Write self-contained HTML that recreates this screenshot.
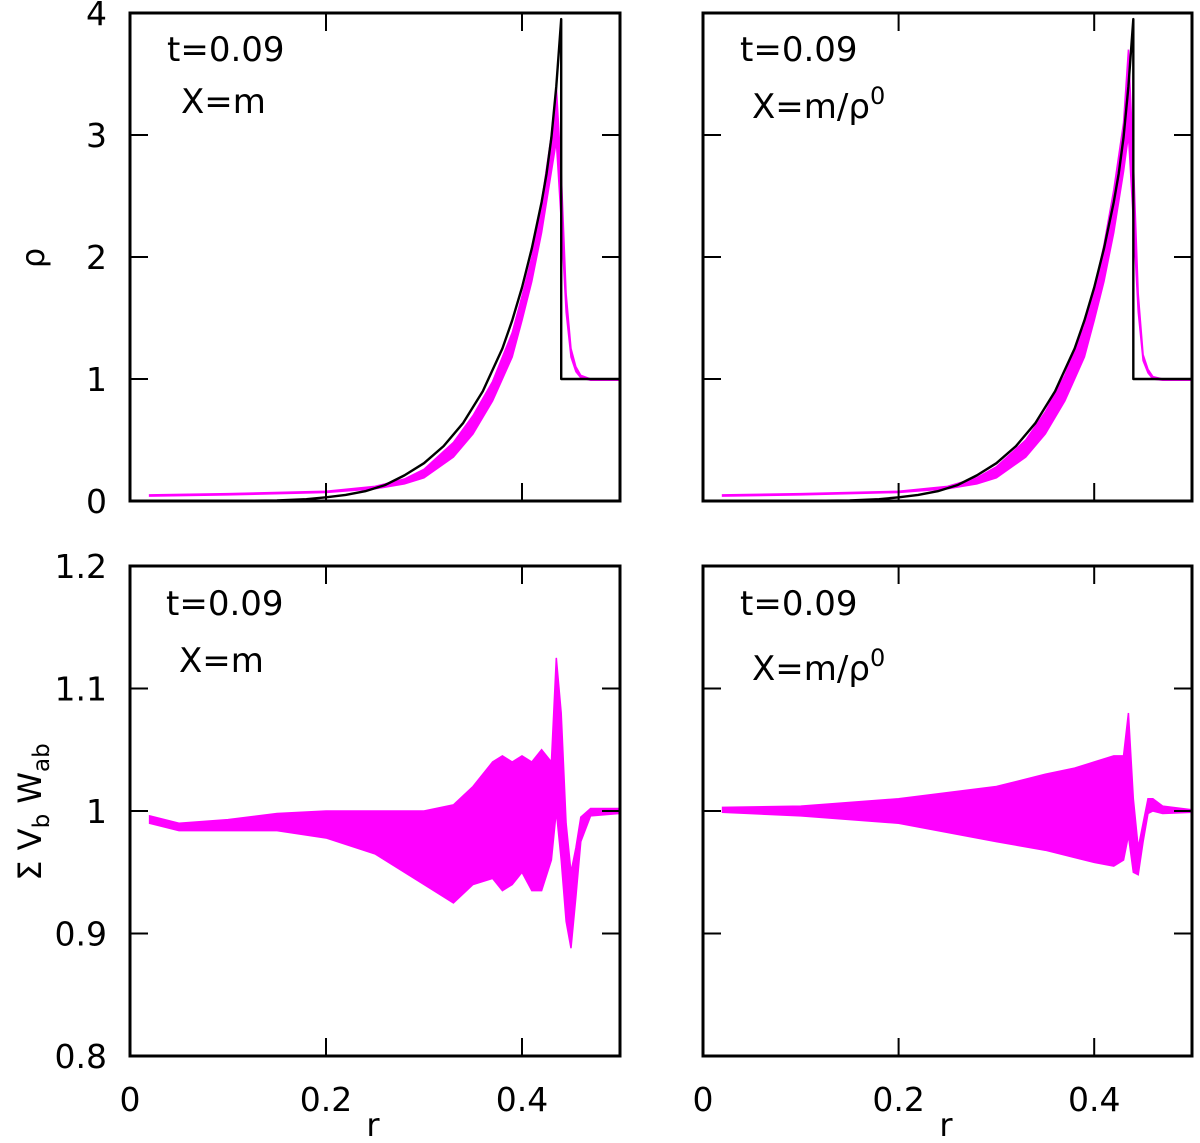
<!DOCTYPE html>
<html><head><meta charset="utf-8"><style>
html,body{margin:0;padding:0;background:#fff}
body{position:relative}
svg{display:block;font-family:"DejaVu Sans","Liberation Sans",sans-serif}
</style></head><body>
<svg id="chart" width="1200" height="1143" viewBox="0 0 1200 1143" xmlns="http://www.w3.org/2000/svg"></svg>
<script>
// ---- data ----
const rhoTicks=[0,1,2,3,4];
const vwTicks=[0.8,0.9,1,1.1,1.2];
const rTicks=[0,0.2,0.4];
const rTickLabels=["0","0.2","0.4"];
const vwTickLabels=["0.8","0.9","1","1.1","1.2"];
// exact solution (black)
const exactR=[0,0.1,0.15,0.18,0.2,0.22,0.24,0.26,0.28,0.3,0.32,0.34,0.36,0.38,0.39,0.4,0.41,0.42,0.425,0.43,0.435,0.44,0.44,0.5];
const exactRho=[0,0,0.005,0.015,0.03,0.05,0.08,0.13,0.21,0.31,0.45,0.64,0.9,1.25,1.48,1.75,2.07,2.45,2.68,2.98,3.4,3.95,1,1];
// SPH density band (magenta): r, upper, lower
const rhoBandR=[0.02,0.1,0.2,0.25,0.28,0.3,0.33,0.35,0.37,0.39,0.4,0.41,0.42,0.43,0.435,0.44,0.445,0.45,0.455,0.46,0.47,0.5];
const rhoUpperL=[0.05,0.06,0.08,0.12,0.18,0.26,0.48,0.7,0.98,1.38,1.68,2.0,2.45,3.0,3.4,2.7,1.7,1.25,1.1,1.03,1.0,1.0];
const rhoLowerL=[0.04,0.05,0.07,0.1,0.14,0.19,0.36,0.55,0.82,1.18,1.48,1.8,2.2,2.7,2.95,2.3,1.55,1.18,1.06,1.01,0.99,0.99];
const rhoUpperR=[0.05,0.06,0.08,0.12,0.19,0.28,0.5,0.73,1.03,1.43,1.73,2.1,2.55,3.1,3.7,2.8,1.7,1.2,1.08,1.02,1.0,1.0];
const rhoLowerR=[0.04,0.05,0.07,0.1,0.14,0.19,0.36,0.55,0.82,1.18,1.48,1.8,2.2,2.7,3.0,2.3,1.55,1.15,1.05,1.0,0.99,0.99];
// sum V W bands
const vwRL=[0.02,0.05,0.1,0.15,0.2,0.25,0.3,0.33,0.35,0.37,0.38,0.39,0.4,0.41,0.42,0.43,0.435,0.44,0.445,0.45,0.455,0.46,0.47,0.5];
const vwUpperL=[0.996,0.99,0.993,0.998,1.0,1.0,1.0,1.005,1.02,1.04,1.045,1.04,1.045,1.04,1.05,1.04,1.125,1.08,0.99,0.95,0.97,0.995,1.002,1.002];
const vwLowerL=[0.99,0.984,0.984,0.984,0.978,0.965,0.94,0.925,0.94,0.945,0.935,0.94,0.95,0.935,0.935,0.96,1.0,0.96,0.91,0.888,0.93,0.975,0.996,0.998];
const vwRR=[0.02,0.1,0.2,0.3,0.35,0.38,0.4,0.42,0.43,0.435,0.44,0.445,0.45,0.455,0.46,0.47,0.5];
const vwUpperR=[1.003,1.004,1.01,1.02,1.03,1.035,1.04,1.045,1.045,1.08,1.01,0.97,0.99,1.01,1.01,1.004,1.001];
const vwLowerR=[0.999,0.996,0.99,0.975,0.968,0.962,0.958,0.955,0.96,0.98,0.95,0.948,0.975,0.998,1.0,0.998,0.999];

const NS="http://www.w3.org/2000/svg";
const svg=document.getElementById('chart');
function el(tag,attrs,parent){const e=document.createElementNS(NS,tag);for(const k in attrs)e.setAttribute(k,attrs[k]);(parent||svg).appendChild(e);return e;}
const panels=[
 {x0:130,x1:620,y0:13,y1:501,ymin:0,ymax:4,ticks:rhoTicks,labels:rhoTicks.map(String),showX:false,name:'rho-left'},
 {x0:703,x1:1192,y0:13,y1:501,ymin:0,ymax:4,ticks:rhoTicks,labels:null,showX:false,name:'rho-right'},
 {x0:130,x1:620,y0:566,y1:1056,ymin:0.8,ymax:1.2,ticks:vwTicks,labels:vwTickLabels,showX:true,name:'vw-left'},
 {x0:703,x1:1192,y0:566,y1:1056,ymin:0.8,ymax:1.2,ticks:vwTicks,labels:null,showX:true,name:'vw-right'}
];
panels.forEach(p=>{p.sx=r=>p.x0+(r/0.5)*(p.x1-p.x0);p.sy=v=>p.y1-(v-p.ymin)/(p.ymax-p.ymin)*(p.y1-p.y0);});
function band(p,R,U,L,name){
  let pts=R.map((r,i)=>p.sx(r)+','+p.sy(U[i]));
  for(let i=R.length-1;i>=0;i--)pts.push(p.sx(R[i])+','+p.sy(L[i]));
  const g=el('polygon',{points:pts.join(' '),fill:'#ff00ff',stroke:'#ff00ff','stroke-width':1.5});
  
  
}
function line(p,R,V,name){
  const l=el('polyline',{points:R.map((r,i)=>p.sx(r)+','+p.sy(V[i])).join(' '),fill:'none',stroke:'#000','stroke-width':2.4,'stroke-linejoin':'round'});
  
  
}
band(panels[0],rhoBandR,rhoUpperL,rhoLowerL,'sph-density-left');
line(panels[0],exactR,exactRho,'exact-density-left');
band(panels[1],rhoBandR,rhoUpperR,rhoLowerR,'sph-density-right');
line(panels[1],exactR,exactRho,'exact-density-right');
band(panels[2],vwRL,vwUpperL,vwLowerL,'volume-sum-left');
band(panels[3],vwRR,vwUpperR,vwLowerR,'volume-sum-right');

panels.forEach(p=>{
  const f=el('rect',{x:p.x0,y:p.y0,width:p.x1-p.x0,height:p.y1-p.y0,fill:'none',stroke:'#000','stroke-width':3});
  
  
  p.ticks.forEach((t,i)=>{
    const y=p.sy(t);
    el('line',{x1:p.x0,x2:p.x0+18,y1:y,y2:y,stroke:'#000','stroke-width':2});
    el('line',{x1:p.x1,x2:p.x1-18,y1:y,y2:y,stroke:'#000','stroke-width':2});
    if(p.labels){const tx=el('text',{x:107,y:y+12,'text-anchor':'end','font-size':33});tx.textContent=p.labels[i];
      
      }
  });
  rTicks.forEach((t,i)=>{
    const x=p.sx(t);
    el('line',{x1:x,x2:x,y1:p.y1,y2:p.y1-18,stroke:'#000','stroke-width':2});
    el('line',{x1:x,x2:x,y1:p.y0,y2:p.y0+18,stroke:'#000','stroke-width':2});
    if(p.showX){const tx=el('text',{x:x,y:1111,'text-anchor':'middle','font-size':33});tx.textContent=rTickLabels[i];
      
      }
  });
});
</script>
<svg width="1200" height="1143" style="position:absolute;left:0;top:0" font-family="DejaVu Sans, Liberation Sans, sans-serif" font-size="34">
<text x="167" y="61">t=0.09</text>
<text x="181" y="113">X=m</text>
<text x="740" y="61">t=0.09</text>
<text x="752" y="118">X=m/ρ<tspan dy="-14" font-size="24">0</tspan></text>
<text x="166" y="615">t=0.09</text>
<text x="179" y="672">X=m</text>
<text x="740" y="615">t=0.09</text>
<text x="752" y="680">X=m/ρ<tspan dy="-14" font-size="24">0</tspan></text>
<text x="373" y="1136" text-anchor="middle" font-size="32">r</text>
<text x="946" y="1136" text-anchor="middle" font-size="32">r</text>
<text transform="translate(44,258) rotate(-90)" text-anchor="middle" font-size="32">ρ</text>
<text transform="translate(41,812) rotate(-90)" text-anchor="middle" font-size="32">Σ V<tspan dy="8" font-size="23">b</tspan><tspan dy="-8"> W</tspan><tspan dy="8" font-size="23">ab</tspan></text>
</svg>
</body></html>
